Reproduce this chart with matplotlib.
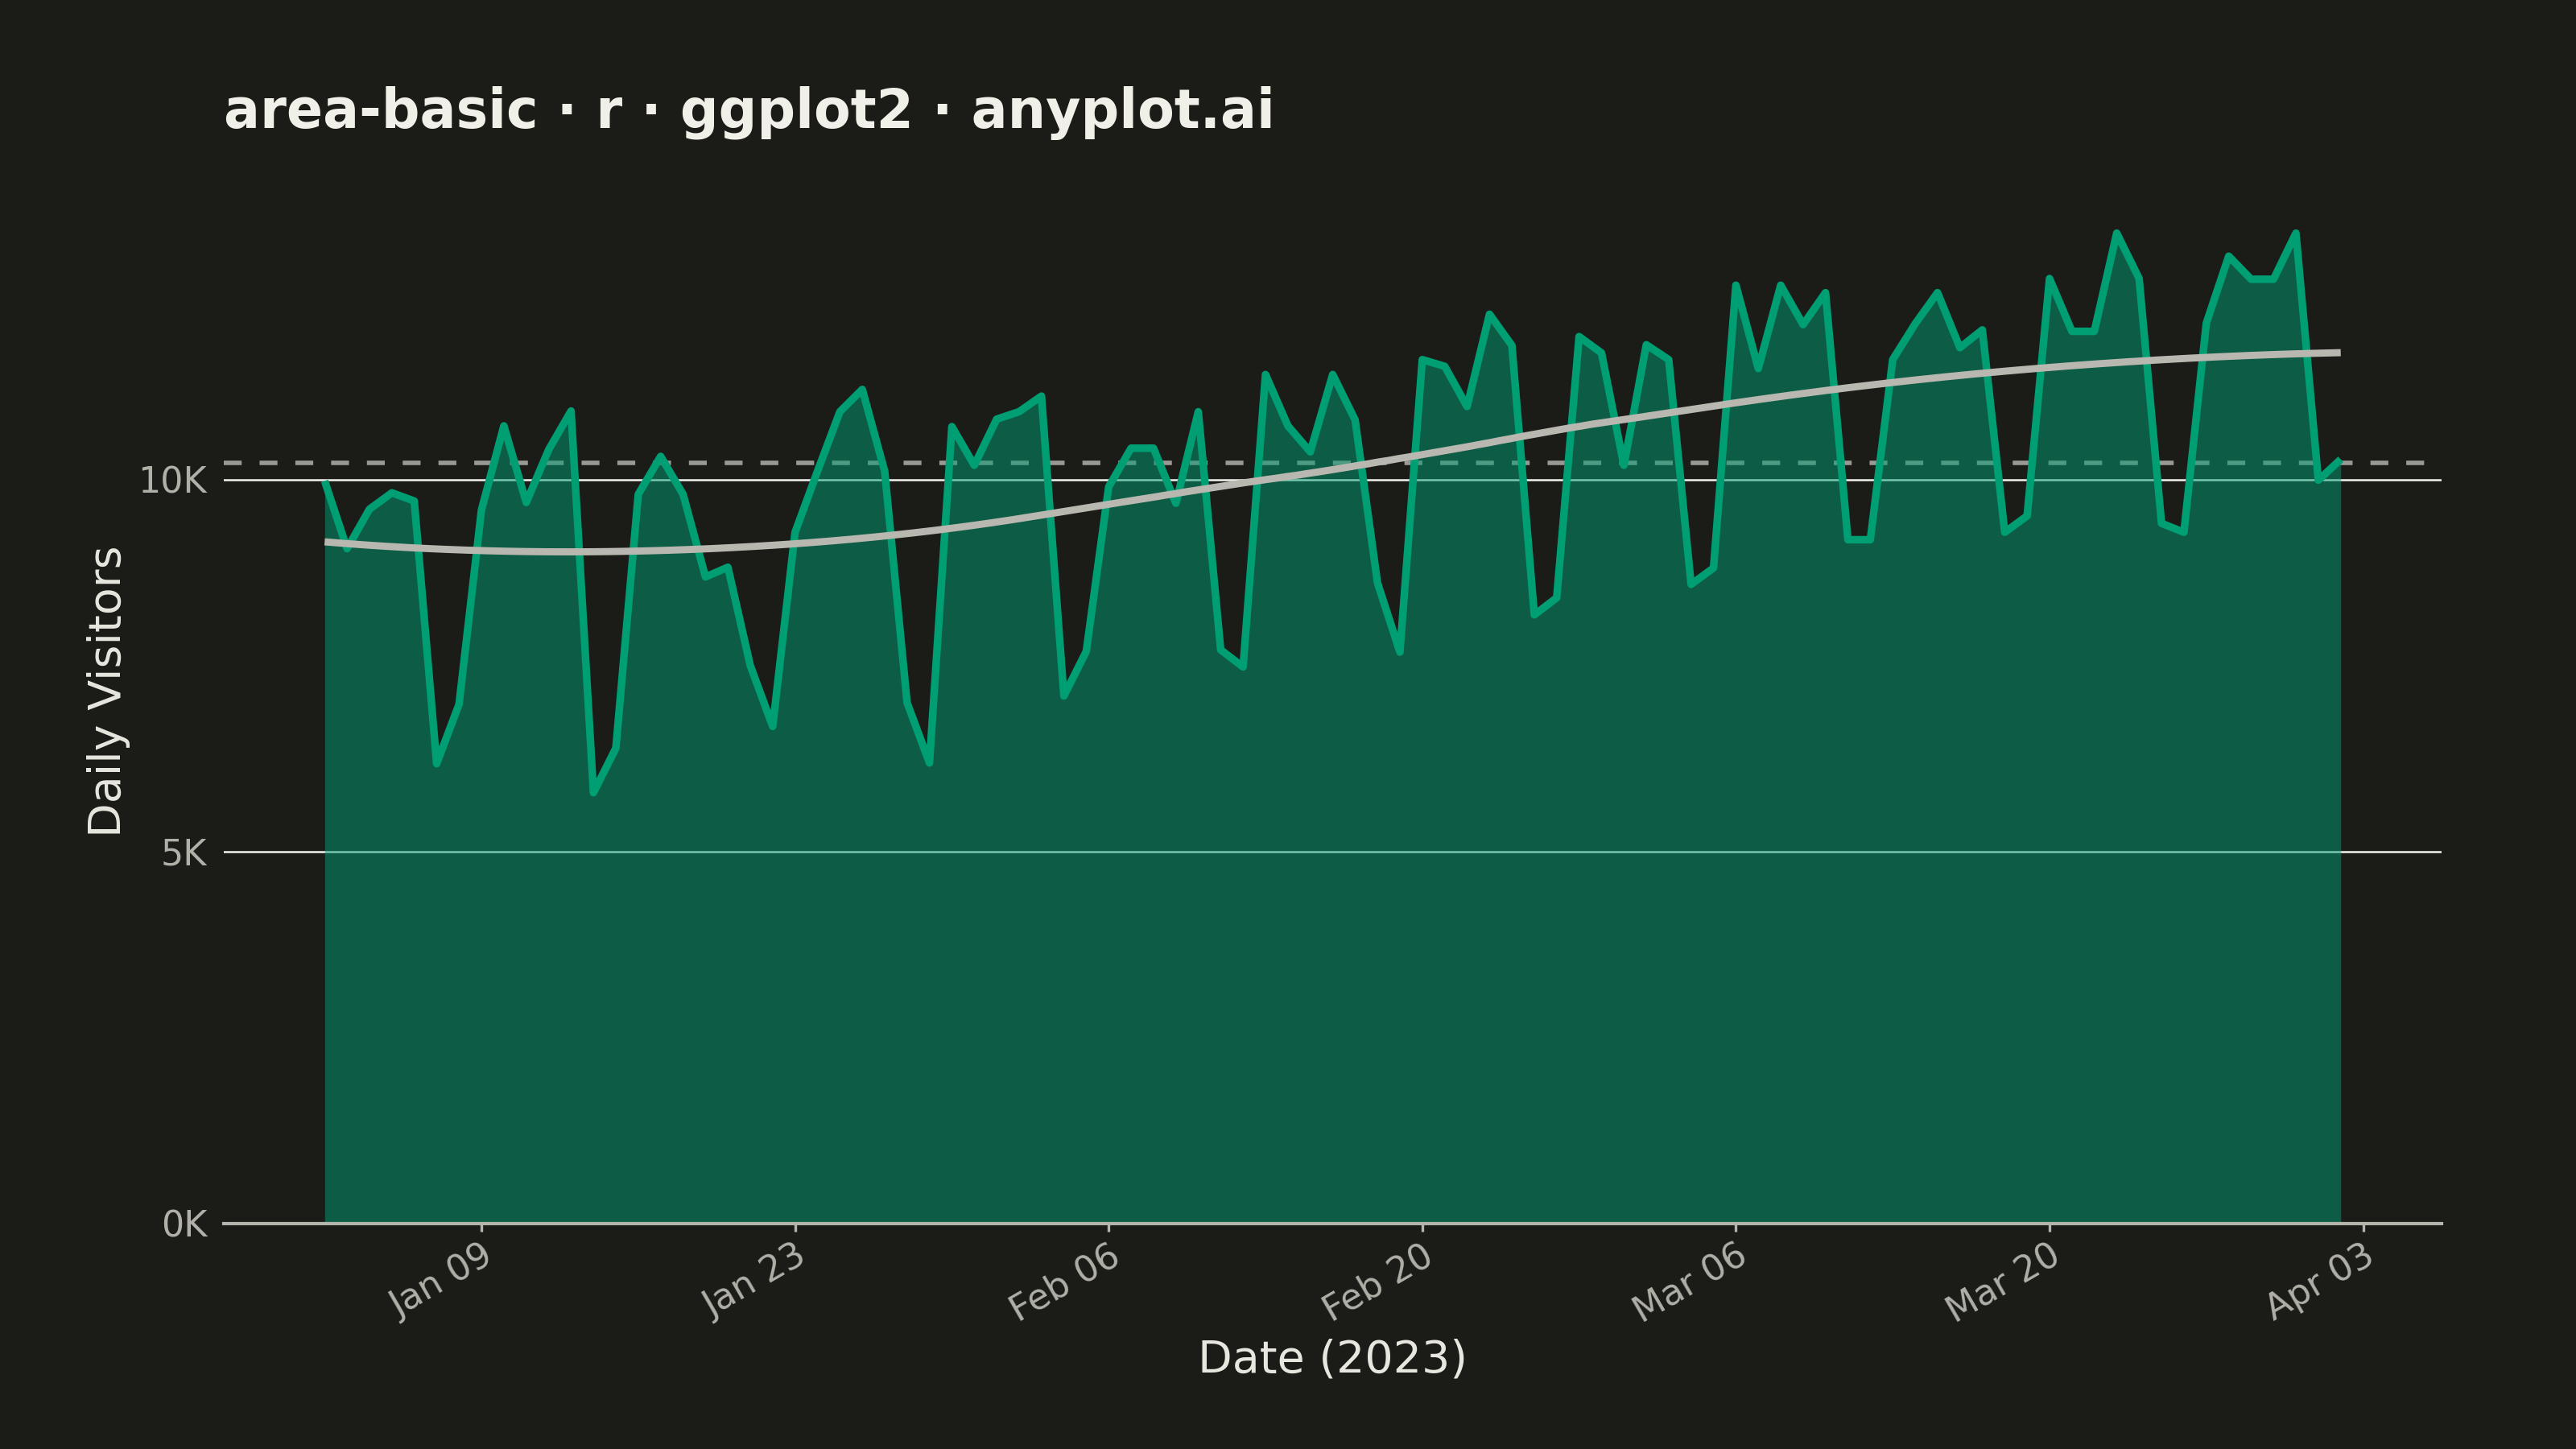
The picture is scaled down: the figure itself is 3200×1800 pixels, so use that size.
import numpy as np
import pandas as pd
import matplotlib
matplotlib.use("Agg")
import matplotlib.pyplot as plt
import matplotlib.dates as mdates
from matplotlib.ticker import FixedLocator, FuncFormatter

# ---------------- data ----------------
start_date = "2023-01-02"
visitors = [
    9980, 9070, 9600, 9820, 9710, 6180, 6980,
    9590, 10720, 9690, 10400, 10920, 5790, 6390,
    9800, 10310, 9800, 8690, 8820, 7500, 6680,
    9290, 10110, 10910, 11210, 10110, 7000, 6190,
    10710, 10190, 10810, 10910, 11120, 7090, 7690,
    9900, 10420, 10420, 9680, 10910, 7710, 7480,
    11410, 10720, 10370, 11410, 10800, 8610, 7680,
    11610, 11520, 10980, 12220, 11800, 8180, 8410,
    11920, 11700, 10190, 11810, 11610, 8590, 8810,
    12610, 11490, 12610, 12080, 12510, 9190, 9190,
    11610, 12090, 12510, 11770, 12010, 9290, 9510,
    12700, 11990, 11990, 13310, 12700, 9410, 9290,
    12100, 13000, 12690, 12690, 13310, 9990, 10270,
]
x_tick_labels = ["Jan 09", "Jan 23", "Feb 06", "Feb 20", "Mar 06", "Mar 20", "Apr 03"]
y_ticks = [0, 5000, 10000]

title = "area-basic · r · ggplot2 · anyplot.ai"
x_label = "Date (2023)"
y_label = "Daily Visitors"

# ---------------- styles ----------------
BG = "#1B1B17"
GREEN = "#009E73"
TREND = "#B9B8B0"
AXIS = "#B5B4AC"
TICK_TXT = "#B0AFA8"
LABEL_TXT = "#E8E7DF"
TITLE_TXT = "#F0EFE8"

plt.rcParams["font.family"] = ["DejaVu Sans"]

dates = pd.date_range(start_date, periods=len(visitors), freq="D")
y = np.asarray(visitors, dtype=float)
xnum = mdates.date2num(dates)
days = xnum - xnum[0]


def loess(x, yv, xs, span=0.75):
    n = len(x)
    q = int(np.floor(n * span))
    out = []
    for x0 in xs:
        d = np.abs(x - x0)
        h = np.sort(d)[q - 1]
        w = np.clip(1 - (d / h) ** 3, 0, None) ** 3
        X = np.vstack([np.ones(n), x - x0, (x - x0) ** 2]).T
        sw = np.sqrt(w)
        beta = np.linalg.lstsq(X * sw[:, None], yv * sw, rcond=None)[0]
        out.append(beta[0])
    return np.array(out)


xs = np.linspace(days.min(), days.max(), 200)
trend = loess(days, y, xs)
mean_val = y.mean()

fig = plt.figure(figsize=(16, 9), dpi=200, facecolor=BG)
ax = fig.add_axes([0.0869, 0.15556, 0.8609, 0.7344], facecolor=BG)

ax.yaxis.grid(True, color="#F2F2EE", lw=0.9, zorder=0.5)
ax.xaxis.grid(False)
ax.set_axisbelow(True)

ax.axhline(mean_val, color="#9A9993", lw=2.0, ls=(0, (4, 4)), zorder=0.8)
ax.fill_between(xnum, 0, y, color=GREEN, alpha=0.5, lw=0, zorder=1)
ax.plot(xnum, y, color=GREEN, lw=3.4, zorder=2, solid_joinstyle="round",
        solid_capstyle="butt")
ax.plot(xnum[0] + xs, trend, color=TREND, lw=3.2, zorder=3, solid_capstyle="butt")

span = xnum[-1] - xnum[0]
ax.set_xlim(xnum[0] - 0.05 * span, xnum[-1] + 0.05 * span)
ax.set_ylim(0, 14300)

tick_dates = mdates.date2num(pd.to_datetime([t + " 2023" for t in x_tick_labels], format="%b %d %Y"))
ax.xaxis.set_major_locator(FixedLocator(tick_dates))
ax.set_xticklabels(x_tick_labels)
ax.yaxis.set_major_locator(FixedLocator(y_ticks))
ax.yaxis.set_major_formatter(FuncFormatter(lambda v, p: f"{v/1000:.0f}K"))

for s in ["top", "right", "left"]:
    ax.spines[s].set_visible(False)
ax.spines["bottom"].set_color(AXIS)
ax.spines["bottom"].set_linewidth(1.5)
ax.spines["bottom"].set_zorder(4)

ax.tick_params(axis="y", length=0, pad=7.5, labelsize=16, labelcolor=TICK_TXT)
ax.tick_params(axis="x", length=3.5, width=1.2, color=AXIS, pad=3, labelsize=16, labelcolor=TICK_TXT)
for lbl in ax.get_xticklabels():
    lbl.set_rotation(30)
    lbl.set_ha("right")
    lbl.set_va("top")
    lbl.set_rotation_mode("anchor")

fig.text(278 / 3200, 1 - 159 / 1800, title, fontsize=24, fontweight="bold",
         color=TITLE_TXT, ha="left", va="baseline")
fig.text(0.5172, 1 - 1690 / 1800, x_label, fontsize=20, color=LABEL_TXT, ha="center", va="center")
fig.text(135 / 3200, 1 - 859 / 1800, y_label, fontsize=20, color=LABEL_TXT,
         ha="center", va="center", rotation=90)

fig.savefig("out.png", dpi=200, facecolor=BG)
